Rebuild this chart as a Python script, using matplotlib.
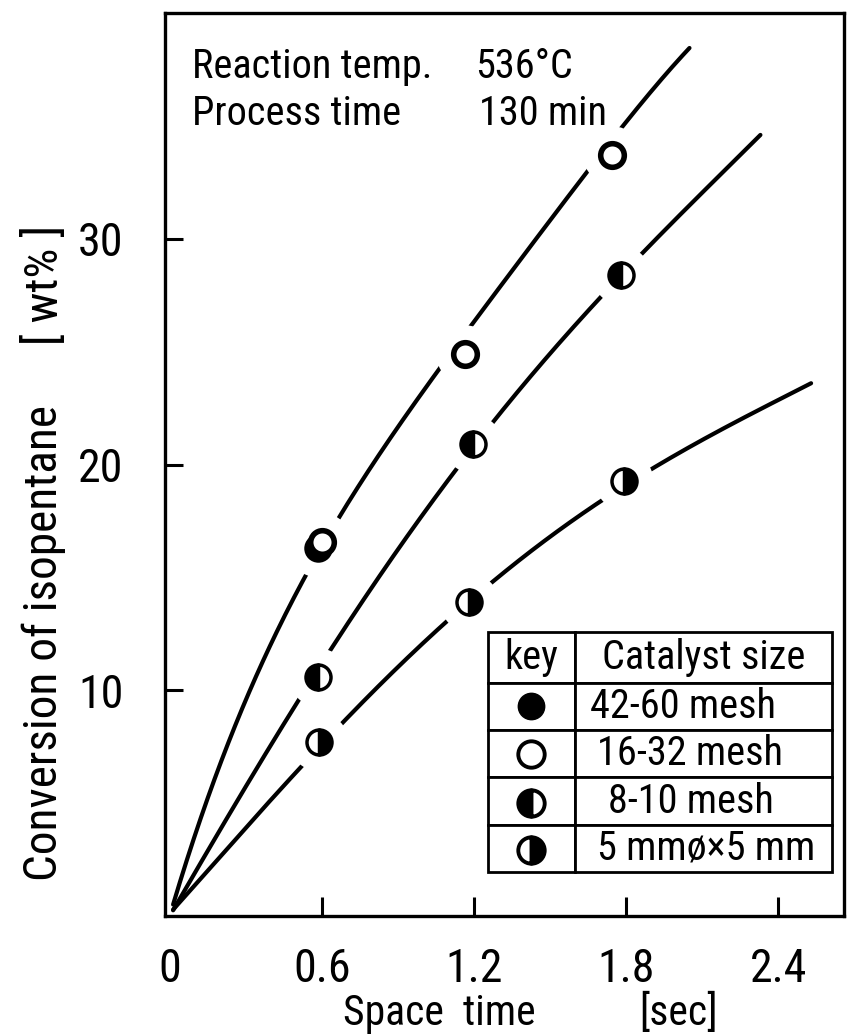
import numpy as np
import matplotlib
matplotlib.use("Agg")
from matplotlib import pyplot as plt
from matplotlib import font_manager

# pick a narrow face if one is installed
fonts = font_manager.fontManager.ttflist
names = {f.name for f in fonts}
face = None
for cand in ['Liberation Sans Narrow', 'Roboto Condensed', 'Open Sans Condensed',
             'Noto Sans Condensed', 'Arial Narrow']:
    if cand in names:
        face = cand
        break
if face is None:
    narrow = sorted(f.name for f in fonts if 'Narrow' in f.name or 'Condensed' in f.name)
    if narrow:
        face = narrow[0]
if face is None and any(f.name == 'DejaVu Sans' and f.stretch == 'condensed' for f in fonts):
    face = 'DejaVu Sans'
    plt.rcParams['font.stretch'] = 'condensed'
if face is None:
    face = 'Liberation Sans'
plt.rcParams['font.family'] = [face, 'DejaVu Sans']

# measured conversion points [space time (s), conversion (wt%)]
open_x = [0.60, 1.165, 1.745]          # 16-32 mesh
open_y = [16.55, 24.9, 33.7]
fine_x = [0.584]                       # 42-60 mesh
fine_y = [16.3]
mid_x = [0.584, 1.196, 1.78]           # 8-10 mesh
mid_y = [10.6, 20.9, 28.4]
pellet_x = [0.588, 1.18, 1.79]         # 5 mm pellets
pellet_y = [7.7, 13.9, 19.25]

# hand-drawn trend curves, read along their length
top_cx = [0.012, 0.13, 0.33, 0.60, 0.99, 1.17, 1.43, 1.65, 1.81, 2.05]
top_cy = [0.27, 5.13, 10.0, 16.55, 22.9, 26.0, 29.9, 33.0, 35.2, 38.5]
mid_cx = [0.012, 0.27, 0.50, 0.62, 0.99, 1.13, 1.26, 1.69, 1.85, 2.33]
mid_cy = [0.27, 5.13, 9.47, 11.6, 17.6, 19.8, 21.7, 27.3, 29.2, 34.6]
low_cx = [0.012, 0.39, 0.525, 0.66, 1.10, 1.25, 1.725, 1.88, 2.53]
low_cy = [0.27, 5.13, 6.7, 8.2, 13.2, 14.6, 18.5, 19.7, 23.6]

x_ticks = [0, 0.6, 1.2, 1.8, 2.4]
x_labels = ["0", "0.6", "1.2", "1.8", "2.4"]
y_ticks = [10, 20, 30]

key_labels = ["42-60 mesh", "16-32 mesh", "8-10 mesh", "5 mmø×5 mm"]

fig = plt.figure(figsize=(8.47, 10.34), dpi=100)
ax = fig.add_axes([0.1948, 0.1141, 0.8017, 0.8733])
ax.set_xlim(-0.02, 2.66)
ax.set_ylim(0, 40)

for cx, cy in [(top_cx, top_cy), (mid_cx, mid_cy), (low_cx, low_cy)]:
    coef = np.polyfit(cx, cy, 4)
    xs = np.linspace(cx[0], cx[-1], 300)
    ax.plot(xs, np.polyval(coef, xs), color='black', lw=3.0,
            solid_capstyle='round', zorder=2)

# white halos break the curves around every point
all_x = open_x + fine_x + mid_x + pellet_x
all_y = open_y + fine_y + mid_y + pellet_y
ax.plot(all_x, all_y, 'o', ms=42, mfc='white', mec='none', zorder=3)

ms = 18
ax.plot(fine_x, fine_y, 'o', ms=ms, mfc='black', mec='black', mew=2.5, zorder=4)
ax.plot(open_x, open_y, 'o', ms=ms - 1, mfc='white', mec='black', mew=4, zorder=5)
ax.plot(mid_x, mid_y, 'o', ms=ms, fillstyle='left', mfc='black', mfcalt='white',
        mec='black', mew=2.5, zorder=4)
ax.plot(pellet_x, pellet_y, 'o', ms=ms, fillstyle='right', mfc='black',
        mfcalt='white', mec='black', mew=2.5, zorder=4)

for s in ax.spines.values():
    s.set_linewidth(2.4)

ax.set_xticks(x_ticks)
ax.set_xticklabels(x_labels)
ax.set_yticks(y_ticks)
ax.tick_params(axis='x', direction='in', length=14, width=2.2, pad=22, labelsize=33)
ax.tick_params(axis='y', direction='in', length=13, width=2.2, pad=30, labelsize=33)
ax.xaxis.get_major_ticks()[0].tick1line.set_visible(False)

fig.text(0.405, 0.009, "Space  time", fontsize=30, ha='left', va='baseline')
fig.text(0.755, 0.009, "[sec]", fontsize=30, ha='left', va='baseline')
fig.text(0.052, 0.148, "Conversion of isopentane", fontsize=34, rotation=90,
         ha='center', va='bottom')
fig.text(0.052, 0.666, "[ wt% ]", fontsize=34, rotation=90, ha='center', va='bottom')

ax.text(0.04, 0.962, "Reaction temp.", transform=ax.transAxes, fontsize=29, va='top', zorder=6)
ax.text(0.456, 0.962, "536°C", transform=ax.transAxes, fontsize=29, va='top', zorder=6)
ax.text(0.04, 0.910, "Process time", transform=ax.transAxes, fontsize=29, va='top', zorder=6)
ax.text(0.463, 0.910, "130 min", transform=ax.transAxes, fontsize=29, va='top', zorder=6)

# key table
cells = [["key", "Catalyst size"]] + [["", lab] for lab in key_labels]
tbl = ax.table(cellText=cells, colWidths=[87, 257], cellLoc='center',
               bbox=[0.4757, 0.0487, 0.5066, 0.2658], zorder=6)
tbl.auto_set_font_size(False)
tbl.set_fontsize(29)
row_pad = [0.058, 0.085, 0.13, 0.085]
for (r, c), cell in tbl.get_celld().items():
    cell.set_linewidth(2.0)
    cell.set_height(51 if r == 0 else 47.5)
    if r > 0 and c == 1:
        cell.get_text().set_ha('left')
        cell.PAD = row_pad[r - 1]

key_y = [0.2326, 0.1799, 0.1257, 0.0736]
key_x = 0.539
kms = 19
ax.plot(key_x, key_y[0], 'o', ms=kms, mfc='black', mec='black', transform=ax.transAxes, zorder=7)
ax.plot(key_x, key_y[1], 'o', ms=kms, mfc='white', mec='black', mew=2.8, transform=ax.transAxes, zorder=7)
ax.plot(key_x, key_y[2], 'o', ms=kms, fillstyle='left', mfc='black', mfcalt='white',
        mec='black', mew=2.8, transform=ax.transAxes, zorder=7)
ax.plot(key_x, key_y[3], 'o', ms=kms, fillstyle='right', mfc='black', mfcalt='white',
        mec='black', mew=2.8, transform=ax.transAxes, zorder=7)

fig.savefig("out.png", dpi=100)
